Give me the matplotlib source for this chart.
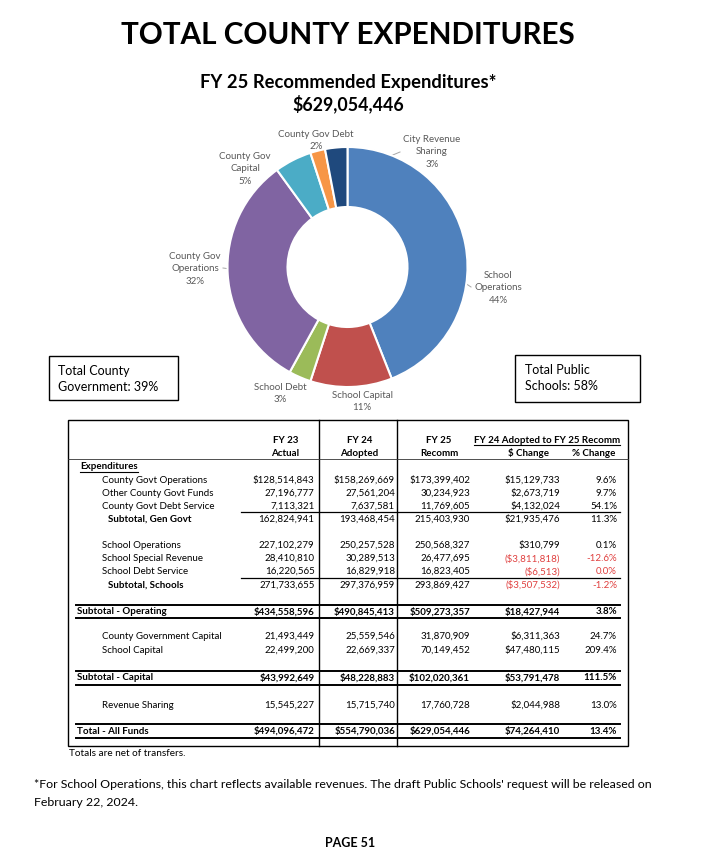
import numpy as np
import matplotlib
matplotlib.use("Agg")
import matplotlib.pyplot as plt
from matplotlib.patches import Rectangle

plt.rcParams.update({
    'font.family': ['Lato', 'DejaVu Sans'],
    'text.color': 'black',
})

# ---- donut data (FY 25 recommended, %) ----
slice_names = ['School\nOperations', 'School Capital', 'School Debt',
               'County Gov\nOperations', 'County Gov\nCapital',
               'County Gov Debt', 'City Revenue\nSharing']
slice_pct = [44, 11, 3, 32, 5, 2, 3]
slice_colors = ['#4F81BD', '#C0504D', '#9BBB59', '#8064A2',
                '#4BACC6', '#F79646', '#1F497D']

# ---- table data ----
row_labels = ['County Govt Operations', 'Other County Govt Funds', 'County Govt Debt Service',
              'Subtotal, Gen Govt',
              'School Operations', 'School Special Revenue', 'School Debt Service',
              'Subtotal, Schools',
              'Subtotal - Operating',
              'County Government Capital', 'School Capital',
              'Subtotal - Capital',
              'Revenue Sharing',
              'Total - All Funds']
fy23_actual = [128514843, 27196777, 7113321, 162824941,
               227102279, 28410810, 16220565, 271733655,
               434558596, 21493449, 22499200, 43992649,
               15545227, 494096472]
fy24_adopted = [158269669, 27561204, 7637581, 193468454,
                250257528, 30289513, 16829918, 297376959,
                490845413, 25559546, 22669337, 48228883,
                15715740, 554790036]
fy25_recomm = [173399402, 30234923, 11769605, 215403930,
               250568327, 26477695, 16823405, 293869427,
               509273357, 31870909, 70149452, 102020361,
               17760728, 629054446]
dollar_change = [15129733, 2673719, 4132024, 21935476,
                 310799, -3811818, -6513, -3507532,
                 18427944, 6311363, 47480115, 53791478,
                 2044988, 74264410]
pct_change = [9.6, 9.7, 54.1, 11.3,
              0.1, -12.6, 0.0, -1.2,
              3.8, 24.7, 209.4, 111.5,
              13.0, 13.4]

W, H = 709, 856
fig = plt.figure(figsize=(W / 100, H / 100), dpi=100)
ax = fig.add_axes([0, 0, 1, 1])
ax.set_xlim(0, W)
ax.set_ylim(H, 0)
ax.axis('off')

RED = '#E0403F'
GRAY = '#595959'

# ---- titles ----
ax.text(348, 35, 'TOTAL COUNTY EXPENDITURES', ha='center', va='center', fontsize=21.3, fontweight='bold')
ax.text(348, 82, 'FY 25 Recommended Expenditures*', ha='center', va='center', fontsize=13.2, fontweight='bold')
ax.text(348, 104, '$629,054,446', ha='center', va='center', fontsize=12.8, fontweight='bold')

# ---- donut ----
cx, cy, R = 347.5, 267, 120
pad = 1.05
pax = fig.add_axes([(cx - R * pad) / W, 1 - (cy + R * pad) / H, 2 * R * pad / W, 2 * R * pad / H])
wedges, _ = pax.pie(slice_pct, colors=slice_colors, startangle=90, counterclock=False,
                    wedgeprops=dict(width=0.5, edgecolor='white', linewidth=1.5))
pax.set_xlim(-pad, pad)
pax.set_ylim(-pad, pad)

label_pos = [(498, 275), (362, 395), (280, 387), (195, 256), (245, 156), (316, 134), (432, 139)]
leader_end = {0: [(465, 283), (471, 287)], 3: [(223, 268)], 4: [(285, 170)], 6: [(400, 152)]}

for i, (name, pct) in enumerate(zip(slice_names, slice_pct)):
    lines = name.split('\n') + [f'{pct}%']
    x0, y0 = label_pos[i]
    for k, s in enumerate(lines):
        ax.text(x0, y0 + k * 12.7, s, ha='center', va='center', fontsize=7, color=GRAY)
    if i in leader_end:
        w = wedges[i]
        mid = np.deg2rad((w.theta1 + w.theta2) / 2)
        pts = [(cx + 0.75 * R * np.cos(mid), cy - 0.75 * R * np.sin(mid))] + leader_end[i]
        xs, ys = zip(*pts)
        ax.plot(xs, ys, color='#A6A6A6', lw=0.7, zorder=5)

# ---- side boxes ----
ax.add_patch(Rectangle((49, 356), 129, 44, fill=False, ec='black', lw=1))
ax.text(58, 371, 'Total County', va='center', fontsize=9)
ax.text(58, 387, 'Government: 39%', va='center', fontsize=9)
ax.add_patch(Rectangle((515, 355), 125, 47, fill=False, ec='black', lw=1))
ax.text(525, 370, 'Total Public', va='center', fontsize=9)
ax.text(525, 386, 'Schools: 58%', va='center', fontsize=9)

# ---- table frame ----
T_L, T_R, T_T, T_B = 68, 628, 420, 745.5
ax.add_patch(Rectangle((T_L, T_T), T_R - T_L, T_B - T_T, fill=False, ec='black', lw=1))
for xv in (319, 397):
    ax.plot([xv, xv], [T_T, T_B], color='black', lw=1)
ax.plot([T_L, T_R], [459, 459], color='#333333', lw=0.6)

FS = 7
underline = []

def cell(x, y, s, ha='left', bold=False, color='black'):
    return ax.text(x, y, s, ha=ha, va='center', fontsize=FS,
                   fontweight='bold' if bold else 'normal', color=color)

# headers
col_center = [285.5, 359.5, 439]
for xc, (a, b) in zip(col_center, [('FY 23', 'Actual'), ('FY 24', 'Adopted'), ('FY 25', 'Recomm')]):
    cell(xc, 440, a, ha='center', bold=True)
    cell(xc, 453, b, ha='center', bold=True)
underline.append(cell(547, 440, 'FY 24 Adopted to FY 25 Recomm', ha='center', bold=True))
cell(528, 453, '$ Change', ha='center', bold=True)
cell(594, 453, '% Change', ha='center', bold=True)
underline.append(cell(80, 466.5, 'Expenditures', bold=True))

row_y = [480, 493, 506, 519, 545.5, 558.5, 571.5, 585, 611.5, 636.5, 650.5, 678, 705, 731]
dollar_rows = {0, 8, 11, 13}
bold_rows = {8, 11, 13}
sub_rows = {3, 7}
col_right = [314.5, 395, 470, 560, 617]


def money(v, dollar):
    s = f'{abs(v):,}'
    if v < 0:
        return f'(${s})'
    return f'${s}' if dollar else s


for i, lab in enumerate(row_labels):
    y = row_y[i]
    bold = i in bold_rows
    if bold:
        cell(77, y, lab, bold=True)
    elif i in sub_rows:
        cell(108, y, lab, bold=True)
    else:
        cell(102.5, y, lab)
    vals = [fy23_actual[i], fy24_adopted[i], fy25_recomm[i]]
    for xr, v in zip(col_right[:3], vals):
        cell(xr, y, money(v, i in dollar_rows), ha='right', bold=bold)
    neg = dollar_change[i] < 0
    c = RED if neg else 'black'
    cell(col_right[3], y, money(dollar_change[i], True), ha='right', bold=bold, color=c)
    cell(col_right[4], y, f'{pct_change[i]:.1f}%', ha='right', bold=bold, color=c)

# rules
for yl in (512, 578):
    ax.plot([241, 620], [yl, yl], color='black', lw=0.9)
for yl in (605, 618, 671, 684.5, 724, 737.5):
    ax.plot([76, 620], [yl, yl], color='black', lw=1.4)

ax.text(69, 754, 'Totals are net of transfers.', va='center', fontsize=7.2)
ax.text(34, 785, "*For School Operations, this chart reflects available revenues. The draft Public Schools' request will be released on",
        va='center', fontsize=8.9)
ax.text(34, 802.5, 'February 22, 2024.', va='center', fontsize=8.9)
ax.text(350, 843, 'PAGE 51', ha='center', va='center', fontsize=9, fontweight='bold')

# underlines from rendered text extents
fig.canvas.draw()
inv = ax.transData.inverted()
for t in underline:
    bb = t.get_window_extent()
    (x0, y0), (x1, y1) = inv.transform([[bb.x0, bb.y0], [bb.x1, bb.y1]])
    ax.plot([x0, x1], [y0 + 0.5, y0 + 0.5], color='black', lw=0.8)

fig.savefig('out.png', dpi=100)
